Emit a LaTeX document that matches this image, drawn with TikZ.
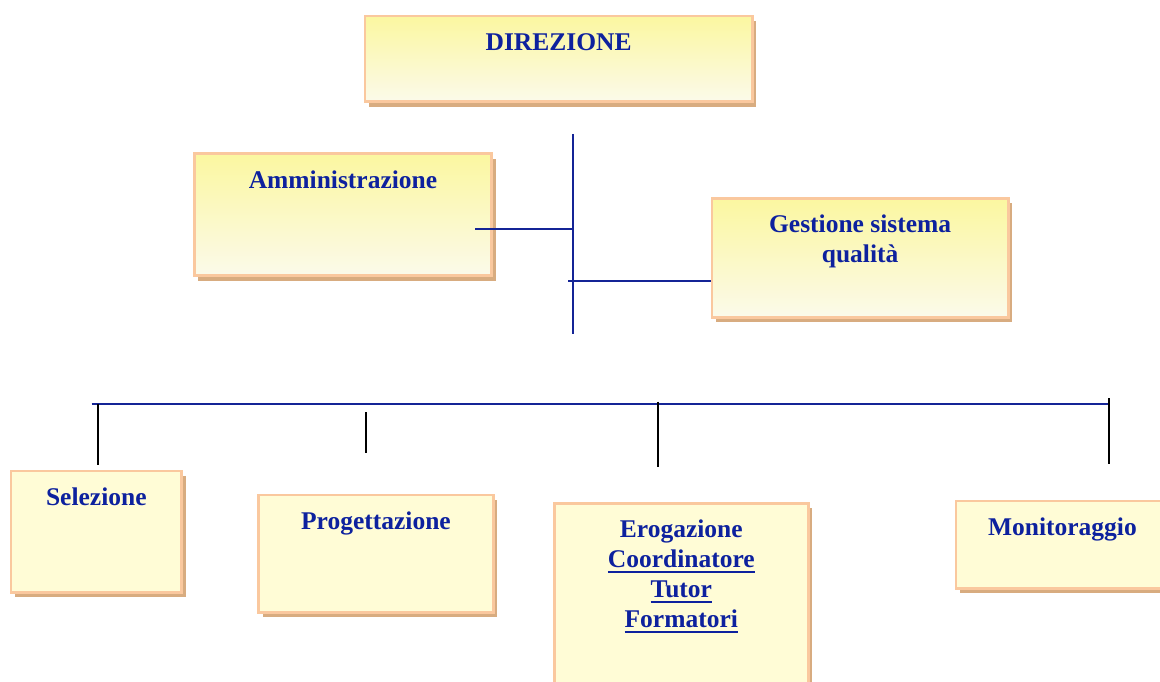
\documentclass[tikz,border=0pt]{standalone}
\usepackage{fontspec}
\setmainfont{Liberation Serif}
\usetikzlibrary{shadows}
\definecolor{textblue}{RGB}{13,33,158}
\definecolor{lineblue}{RGB}{20,36,150}
\definecolor{boxborder}{RGB}{250,200,158}
\definecolor{shadowc}{RGB}{216,172,128}
\definecolor{gradtop}{RGB}{251,247,160}
\definecolor{gradbot}{RGB}{251,250,234}
\definecolor{lowfill}{RGB}{255,252,214}
\newcommand\boxtext[3]{\parbox[t][#2pt][t]{#1pt}{\centering\rule{0pt}{34.5pt}#3}}
\newcommand\ulbar[1]{\leavevmode\setbox0=\hbox{#1}\rlap{\rule[-5.5pt]{\wd0}{2.6pt}}\box0}
\tikzset{
  boxbase/.style={draw=boxborder, line width=2.6pt, inner sep=0pt, anchor=north west,
    text=textblue, font=\bfseries\fontsize{25.5}{30}\selectfont,
    drop shadow={shadow xshift=4pt, shadow yshift=-5pt, fill=shadowc, opacity=1}},
  topbox/.style={boxbase, top color=gradtop, bottom color=gradbot},
  lowbox/.style={boxbase, fill=lowfill},
  blueline/.style={draw=lineblue, line width=2.3pt},
  dropline/.style={draw=black, line width=1.8pt},
}
\begin{document}
\begin{tikzpicture}[x=1pt,y=-1pt]
\clip (0,0) rectangle (1160,682);
\fill[white] (0,0) rectangle (1160,682);
% boxes
\node[topbox] (dir) at (363.6,14.6) {\boxtext{387.4}{85.8}{DIREZIONE}};
\node[topbox] (amm) at (193,152.3) {\boxtext{297.4}{122.1}{Amministrazione}};
\node[topbox] (gest) at (710.6,197) {\boxtext{296.4}{119}{Gestione sistema\\qualità}};
\node[lowbox] (sel) at (9.6,469.6) {\boxtext{170.8}{121.4}{Selezione}};
\node[lowbox] (prog) at (257.3,493.6) {\boxtext{234.7}{117.4}{Progettazione}};
\node[lowbox] (erog) at (553,502) {\boxtext{254}{220}{Erogazione\\\ulbar{Coordinatore}\\\ulbar{Tutor}\\\ulbar{Formatori}}};
\node[lowbox] (mon) at (954.6,499.6) {\boxtext{213}{87.4}{Monitoraggio}};
% spine and staff connectors
\coordinate (spineT) at (572.7,134);
\coordinate (spineB) at (572.7,334);
\draw[blueline] (spineT) -- (spineB);
\coordinate (ammEnd) at (475,229);
\draw[blueline] (ammEnd) -- (ammEnd -| spineT);
\coordinate (gStart) at (568.3,280.7);
\draw[blueline] (gStart) -- (gStart -| gest.west);
% bus
\coordinate (busL) at (91.7,404);
\coordinate (busR) at (1110.3,404);
\draw[blueline] (busL) -- (busR);
% drops
\coordinate (d1t) at (98.3,404);   \coordinate (d1b) at (98.3,465);
\coordinate (d2t) at (365.7,412);  \coordinate (d2b) at (365.7,453.3);
\coordinate (d3t) at (658.3,401.7); \coordinate (d3b) at (658.3,466.7);
\coordinate (d4t) at (1109.3,398.3); \coordinate (d4b) at (1109.3,464);
\draw[dropline] (d1t) -- (d1b);
\draw[dropline] (d2t) -- (d2b);
\draw[dropline] (d3t) -- (d3b);
\draw[dropline] (d4t) -- (d4b);
\end{tikzpicture}
\end{document}
